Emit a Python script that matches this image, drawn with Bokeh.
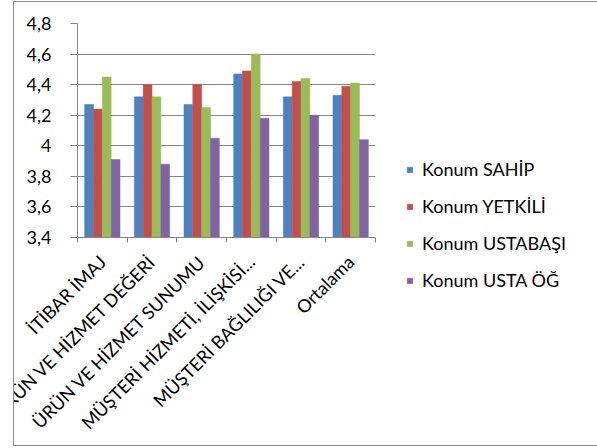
import math
from bokeh.plotting import figure
from bokeh.models import FixedTicker, CustomJSTickFormatter, Legend, LegendItem, ColumnDataSource, Range1d
from bokeh.transform import dodge
from bokeh.embed import file_html
from bokeh.resources import INLINE

categories = ["İTİBAR İMAJ", "ÜRÜN VE HİZMET DEĞERİ", "ÜRÜN VE HİZMET SUNUMU",
              "MÜŞTERİ HİZMETİ, İLİŞKİSİ...", "MÜŞTERİ BAĞLILIĞI VE...", "Ortalama"]
series_names = ["Konum SAHİP", "Konum YETKİLİ", "Konum USTABAŞI", "Konum USTA ÖĞ"]
sahip = [4.27, 4.32, 4.27, 4.47, 4.32, 4.33]
yetkili = [4.24, 4.40, 4.40, 4.49, 4.42, 4.39]
ustabasi = [4.45, 4.32, 4.25, 4.60, 4.44, 4.41]
usta_og = [3.91, 3.88, 4.05, 4.18, 4.20, 4.04]
y_ticks = [3.4, 3.6, 3.8, 4.0, 4.2, 4.4, 4.6, 4.8]
colors = ["#4F81BD", "#C0504D", "#9BBB59", "#8064A2"]

FONT = "Lato"
x_centers = [i + 0.5 for i in range(len(categories))]
boundaries = list(range(len(categories) + 1))

src = ColumnDataSource(dict(x=x_centers, s0=sahip, s1=yetkili, s2=ustabasi, s3=usta_og))

p = figure(frame_width=298, frame_height=214, output_backend="svg", toolbar_location=None,
           x_range=Range1d(0, len(categories)), y_range=Range1d(3.4, 4.8),
           min_border_left=63, min_border_right=215, min_border_top=21, min_border_bottom=208)
p.outline_line_color = None
p.background_fill_color = "white"
p.border_fill_color = "white"
p.styles = {"border": "1px solid #8c8c8c", "margin-left": "13px", "margin-top": "1px"}

bw = 0.178
offsets = [-1.5 * bw, -0.5 * bw, 0.5 * bw, 1.5 * bw]
renderers = []
for k in range(4):
    r = p.vbar(x=dodge("x", offsets[k]), top="s%d" % k, bottom=3.4, width=bw, source=src,
               fill_color=colors[k], line_color=colors[k], line_width=0.5)
    renderers.append(r)

# axes
p.xaxis.ticker = FixedTicker(ticks=x_centers, minor_ticks=boundaries)
p.xaxis.major_label_overrides = {x: c for x, c in zip(x_centers, categories)}
p.xaxis.major_tick_out = 0
p.xaxis.major_tick_in = 0
p.xaxis.minor_tick_out = 5
p.xaxis.minor_tick_in = 0
p.xaxis.minor_tick_line_color = "#868686"
p.xaxis.axis_line_color = "#868686"
p.xaxis.major_label_orientation = math.pi / 4
p.xaxis.major_label_standoff = 16
p.xaxis.major_label_text_font = FONT
p.xaxis.major_label_text_font_size = "18px"
p.xaxis.major_label_text_color = "black"

p.yaxis.ticker = FixedTicker(ticks=y_ticks)
p.yaxis.formatter = CustomJSTickFormatter(code="return (Math.round(tick*10)/10).toString().replace('.', ',');")
p.yaxis.major_tick_out = 7
p.yaxis.major_tick_in = 0
p.yaxis.minor_tick_line_color = None
p.yaxis.major_tick_line_color = "#868686"
p.yaxis.axis_line_color = "#868686"
p.yaxis.major_label_standoff = 19
p.yaxis.major_label_text_font = FONT
p.yaxis.major_label_text_font_size = "18px"
p.yaxis.major_label_text_color = "black"

p.xgrid.grid_line_color = None
p.ygrid.ticker = FixedTicker(ticks=y_ticks)
p.ygrid.grid_line_color = "#868686"
p.ygrid.grid_line_width = 1

legend = Legend(items=[LegendItem(label=n, renderers=[r]) for n, r in zip(series_names, renderers)],
                location=(31, -54), orientation="vertical")
legend.padding = 0
legend.margin = 0
legend.border_line_color = None
legend.background_fill_alpha = 0
legend.glyph_width = 7
legend.glyph_height = 7
legend.label_standoff = 9
legend.label_height = 22
legend.spacing = 15
legend.label_text_font = FONT
legend.label_text_font_size = "18px"
legend.label_text_color = "black"
p.add_layout(legend, "right")

open("out.html", "w").write(file_html(p, INLINE))
